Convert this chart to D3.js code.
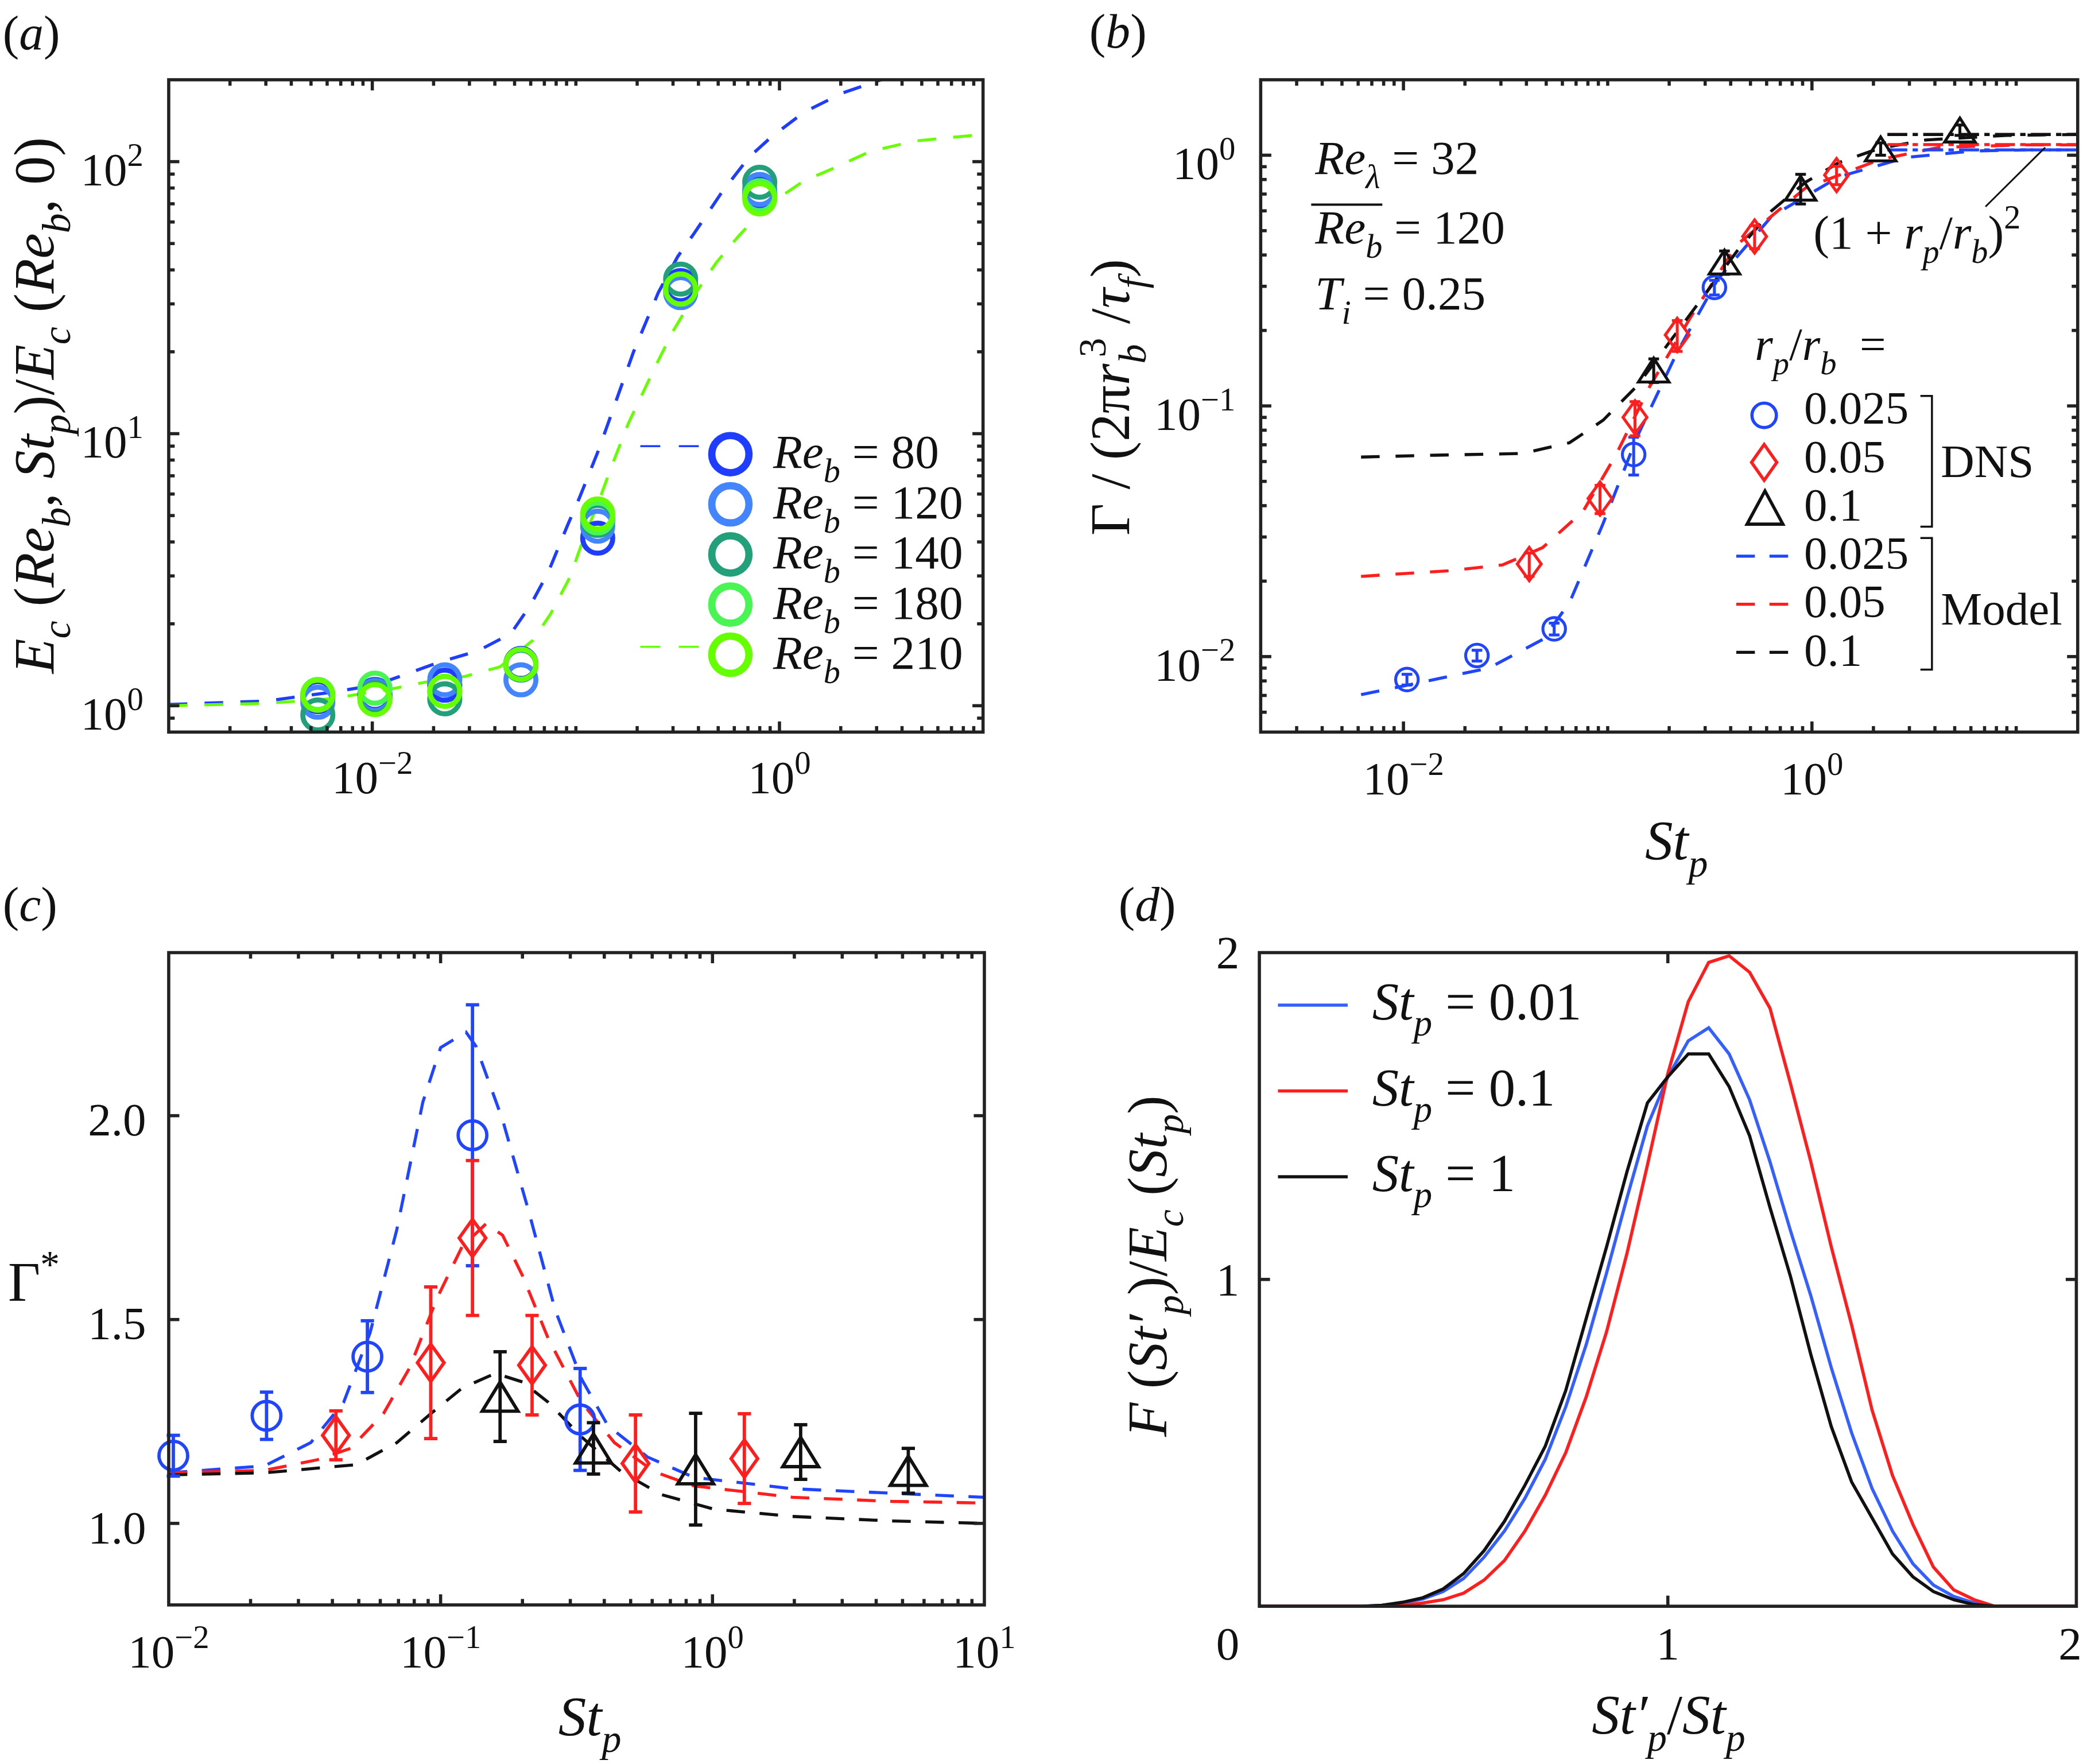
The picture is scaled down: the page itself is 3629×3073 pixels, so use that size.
<!DOCTYPE html>
<html>
<head>
<meta charset="utf-8">
<script src="https://cdn.jsdelivr.net/npm/d3@7"></script>
<style>
  html, body { margin: 0; padding: 0; background: #fff; }
  svg { display: block; }
  text { font-family: "Liberation Serif", "Times New Roman", Times, serif; fill: #111; white-space: pre; }
</style>
</head>
<body>
<div id="chart"></div>
<script>
// ---------- panel (a): E_c ratio vs St_p for several Re_b ----------
var stA = [0.0054, 0.0103, 0.0227, 0.0537, 0.128, 0.327, 0.80];
var reLabels = ["80", "120", "140", "180", "210"];
var reColors = ["#1f3dff", "#4385ff", "#22a07a", "#48f552", "#66ff00"];
var ecRe80  = [1.08, 1.10, 1.19, 1.43, 4.13, 35, 77];
var ecRe120 = [1.03, 1.09, 1.245, 1.245, 4.57, 33, 79];
var ecRe140 = [0.925, 1.07, 1.06, 1.41, 4.8, 37, 84];
var ecRe180 = [1.10, 1.16, 1.13, 1.42, 4.9, 34, 75];
var ecRe210 = [1.093, 1.053, 1.13, 1.42, 5.07, 34, 73];
var modelStA80 = [0.001, 0.003, 0.00625, 0.0103, 0.0144, 0.0216, 0.033, 0.0479, 0.06, 0.0732, 0.0915, 0.104, 0.13, 0.162, 0.192, 0.254, 0.316, 0.381, 0.52, 0.71, 0.91, 1.32, 2.05, 3.16, 5];
var modelEcA80 = [1.01, 1.04, 1.12, 1.19, 1.30, 1.45, 1.59, 1.84, 2.35, 3.1, 4.65, 5.8, 8.8, 14, 20, 33, 44.7, 54.5, 77, 104, 123, 152, 179, 200, 225];
var modelStA210 = [0.001, 0.003, 0.0062, 0.0122, 0.0182, 0.0284, 0.0424, 0.0615, 0.075, 0.0938, 0.1087, 0.128, 0.15, 0.181, 0.247, 0.297, 0.389, 0.489, 0.627, 0.85, 1.32, 1.81, 2.79, 4.6, 10];
var modelEcA210 = [1.0, 1.02, 1.06, 1.15, 1.22, 1.28, 1.39, 1.74, 2.17, 2.98, 4.09, 5.5, 7.6, 10.9, 17.8, 23.5, 33, 42.5, 53, 68, 85, 94, 109, 119, 126];

// ---------- panel (b): collision kernel vs St_p ----------
var stB025 = [0.0104, 0.0229, 0.0547, 0.134, 0.333];
var gamB025 = [0.0081, 0.0101, 0.0129, 0.064, 0.297];
var errB025 = [0.0004, 0.0005, 0.0007, 0.011, 0.02];
var stB05 = [0.0413, 0.0917, 0.136, 0.219, 0.524, 1.32];
var gamB05 = [0.0234, 0.0427, 0.090, 0.192, 0.474, 0.833];
var errB05 = [0.0025, 0.0055, 0.014, 0.027, 0.05, 0.07];
var stB1 = [0.168, 0.373, 0.88, 2.17, 5.3];
var gamB1 = [0.139, 0.375, 0.739, 1.06, 1.26];
var errB1 = [0.015, 0.04, 0.1, 0.06, 0.06];
var modelStB025 = [0.0062, 0.0105, 0.0262, 0.048, 0.065, 0.095, 0.139, 0.219, 0.346, 0.634, 1.355, 2.9, 6.2, 11.3, 20];
var modelGB025 = [0.00705, 0.0077, 0.009, 0.0117, 0.0164, 0.034, 0.075, 0.164, 0.32, 0.57, 0.82, 0.98, 1.04, 1.05, 1.05];
var modelStB05 = [0.0062, 0.0166, 0.0305, 0.048, 0.0758, 0.11, 0.161, 0.254, 0.43, 0.93, 2.14, 4.2, 11.3, 20];
var modelGB05 = [0.0209, 0.022, 0.0232, 0.0272, 0.038, 0.064, 0.12, 0.225, 0.44, 0.74, 0.96, 1.075, 1.1, 1.1];
var modelStB1 = [0.0062, 0.0143, 0.0383, 0.065, 0.095, 0.139, 0.203, 0.297, 0.434, 0.634, 0.93, 1.355, 2.14, 3.6, 9, 20];
var modelGB1 = [0.0625, 0.0636, 0.0646, 0.0713, 0.0877, 0.12, 0.182, 0.276, 0.419, 0.60, 0.78, 0.935, 1.065, 1.15, 1.2, 1.21];
var limitSt = [2.34, 20];
var limitVals = [1.0506, 1.1025, 1.21];   // (1 + rp/rb)^2

// ---------- panel (c): Gamma* vs St_p ----------
var stC025 = [0.0104, 0.0229, 0.0538, 0.131, 0.326];
var gC025 = [1.166, 1.264, 1.409, 1.952, 1.255];
var errC025 = [0.05, 0.058, 0.088, 0.32, 0.125];
var stC05 = [0.0412, 0.092, 0.131, 0.217, 0.521, 1.31];
var gC05 = [1.216, 1.394, 1.70, 1.388, 1.147, 1.159];
var errC05 = [0.06, 0.186, 0.19, 0.122, 0.119, 0.11];
var stC1 = [0.1655, 0.365, 0.867, 2.11, 5.25];
var gC1 = [1.311, 1.184, 1.133, 1.175, 1.129];
var errC1 = [0.11, 0.063, 0.137, 0.067, 0.055];
var modelStC025 = [0.01, 0.0225, 0.0333, 0.044, 0.055, 0.069, 0.086, 0.1, 0.124, 0.135, 0.169, 0.211, 0.264, 0.33, 0.412, 0.576, 0.853, 1.97, 4.57, 10];
var modelGC025 = [1.124, 1.141, 1.198, 1.297, 1.467, 1.72, 2.033, 2.167, 2.205, 2.17, 1.99, 1.765, 1.523, 1.354, 1.24, 1.163, 1.113, 1.085, 1.074, 1.064];
var modelStC05 = [0.01, 0.0225, 0.0352, 0.0466, 0.0616, 0.077, 0.097, 0.12, 0.147, 0.169, 0.2, 0.249, 0.33, 0.436, 0.61, 0.853, 1.97, 4.57, 10];
var modelGC05 = [1.124, 1.13, 1.156, 1.184, 1.269, 1.382, 1.552, 1.679, 1.735, 1.707, 1.608, 1.453, 1.297, 1.198, 1.127, 1.092, 1.064, 1.054, 1.05];
var modelStC1 = [0.01, 0.0225, 0.049, 0.069, 0.092, 0.12, 0.159, 0.2, 0.249, 0.33, 0.461, 0.646, 1.01, 1.97, 4.57, 10];
var modelGC1 = [1.119, 1.124, 1.144, 1.198, 1.269, 1.332, 1.368, 1.347, 1.297, 1.212, 1.127, 1.071, 1.035, 1.017, 1.006, 1.0];

// ---------- panel (d): distribution of St'_p ----------
var ratioD = [0, 0.25, 0.30, 0.35, 0.40, 0.45, 0.50, 0.55, 0.60, 0.65, 0.70, 0.75, 0.80, 0.85, 0.90, 0.95, 1.00, 1.05, 1.10, 1.15, 1.20, 1.25, 1.30, 1.35, 1.40, 1.45, 1.50, 1.55, 1.60, 1.65, 1.70, 1.75, 1.80, 2.0];
var fSt001 = [0, 0, 0.003, 0.01, 0.022, 0.045, 0.085, 0.15, 0.23, 0.33, 0.45, 0.61, 0.80, 1.02, 1.25, 1.47, 1.62, 1.73, 1.77, 1.69, 1.55, 1.36, 1.15, 0.95, 0.73, 0.53, 0.36, 0.23, 0.13, 0.065, 0.03, 0.01, 0, 0];
var fSt01 = [0, 0, 0, 0.003, 0.01, 0.02, 0.04, 0.08, 0.14, 0.23, 0.34, 0.47, 0.64, 0.84, 1.08, 1.35, 1.63, 1.85, 1.97, 1.99, 1.94, 1.83, 1.60, 1.36, 1.10, 0.86, 0.60, 0.40, 0.25, 0.12, 0.05, 0.02, 0, 0];
var fSt1 = [0, 0, 0.003, 0.012, 0.026, 0.053, 0.10, 0.17, 0.26, 0.37, 0.49, 0.66, 0.88, 1.10, 1.33, 1.54, 1.62, 1.69, 1.69, 1.59, 1.44, 1.22, 1.01, 0.77, 0.55, 0.38, 0.27, 0.16, 0.09, 0.045, 0.02, 0.005, 0, 0];
var legendD = ["0.01", "0.1", "1"];

var BLUE = "#1f45ff", RED = "#ff1e1e", BLACK = "#111111";
var AXIS = "#222";

var svg = d3.select("#chart").append("svg")
  .attr("width", 3629)
  .attr("height", 3073)
  .attr("viewBox", "0 0 1568 1327.7");
svg.append("rect").attr("width", 1568).attr("height", 1327.7).attr("fill", "#fff");
var defs = svg.append("defs");

// text with italic / sub / sup pieces: parts = [[str, style, dx]]
function richText(parent, x, y, fs, parts, anchor) {
  var t = parent.append("text")
    .attr("x", x).attr("y", y)
    .attr("font-size", fs)
    .attr("text-anchor", anchor || "start");
  var cur = 0;
  parts.forEach(function (p) {
    var st = p[1] || "";
    var off = 0, size = fs;
    if (st.indexOf("sub") >= 0) { off = 0.3 * fs; size = 0.7 * fs; }
    else if (st.indexOf("sup") >= 0) { off = -0.42 * fs; size = 0.7 * fs; }
    var ts = t.append("tspan")
      .attr("dy", off - cur)
      .attr("font-size", size)
      .attr("font-style", st.charAt(0) === "i" ? "italic" : "normal")
      .text(p[0]);
    if (p[2]) ts.attr("dx", p[2]);
    cur = off;
  });
  return t;
}

function rotLabel(x, y, fs, parts) {
  var g = svg.append("g").attr("transform", "translate(" + x + "," + y + ") rotate(-90)");
  return richText(g, 0, 0, fs, parts, "middle");
}

function makePanel(id, x, y, w, h) {
  defs.append("clipPath").attr("id", "clip-" + id)
    .append("rect").attr("width", w).attr("height", h);
  var g = svg.append("g").attr("transform", "translate(" + x + "," + y + ")");
  var curves = g.append("g").attr("clip-path", "url(#clip-" + id + ")");
  var marks = g.append("g");
  var frame = g.append("g");
  return { g: g, curves: curves, marks: marks, frame: frame, w: w, h: h };
}

function logTicks(lo, hi) {
  var out = [];
  for (var e = Math.floor(Math.log10(lo)); e <= Math.ceil(Math.log10(hi)); e++) {
    for (var k = 1; k < 10; k++) {
      var v = k * Math.pow(10, e);
      if (v >= lo * 0.999 && v <= hi * 1.001) out.push(v);
    }
  }
  return out;
}

function isMajor(v, majors) {
  return majors.some(function (m) { return Math.abs(v - m) / m < 1e-6; });
}

// inward ticks on all four sides, MATLAB box style
function drawFrame(p, sx, sy, xTicks, xMajors, yTicks, yMajors) {
  var f = p.frame;
  var MAJ = 8, MIN = 4.5;
  xTicks.forEach(function (v) {
    var x = sx(v);
    if (x < 1 || x > p.w - 1) return;
    var len = isMajor(v, xMajors) ? MAJ : MIN;
    f.append("line").attr("x1", x).attr("x2", x).attr("y1", p.h).attr("y2", p.h - len);
    f.append("line").attr("x1", x).attr("x2", x).attr("y1", 0).attr("y2", len);
  });
  yTicks.forEach(function (v) {
    var y = sy(v);
    if (y < 1 || y > p.h - 1) return;
    var len = isMajor(v, yMajors) ? MAJ : MIN;
    f.append("line").attr("x1", 0).attr("x2", len).attr("y1", y).attr("y2", y);
    f.append("line").attr("x1", p.w).attr("x2", p.w - len).attr("y1", y).attr("y2", y);
  });
  f.selectAll("line").attr("stroke", AXIS).attr("stroke-width", 2.4);
  f.append("rect").attr("width", p.w).attr("height", p.h)
    .attr("fill", "none").attr("stroke", AXIS).attr("stroke-width", 2.4);
}

function expParts(v) {
  var e = Math.round(Math.log10(v));
  return [["10"], [(e < 0 ? "\u2212" : "") + Math.abs(e), "sup"]];
}

function logXLabels(p, sx, vals, dy) {
  vals.forEach(function (v) { richText(p.g, sx(v), p.h + dy, 35, expParts(v), "middle"); });
}
function logYLabels(p, sy, vals) {
  vals.forEach(function (v) { richText(p.g, -19, sy(v) + 18, 35, expParts(v), "end"); });
}

function zip(xs, ys) { return xs.map(function (x, i) { return [x, ys[i]]; }); }

function dashed(p, sx, sy, xs, ys, color, width, dash) {
  p.curves.append("path")
    .datum(zip(xs, ys))
    .attr("fill", "none")
    .attr("stroke", color)
    .attr("stroke-width", width)
    .attr("stroke-dasharray", dash)
    .attr("d", d3.line().x(function (d) { return sx(d[0]); }).y(function (d) { return sy(d[1]); }));
}

function diamondPath(hw, hh) {
  return "M0," + (-hh) + "L" + hw + ",0L0," + hh + "L" + (-hw) + ",0Z";
}
function trianglePath(w, h) {
  return "M0," + (-h / 2) + "L" + (w / 2) + "," + (h / 2) + "L" + (-w / 2) + "," + (h / 2) + "Z";
}

function marker(g, kind, x, y, color, size, sw) {
  if (kind === "o") {
    g.append("circle").attr("cx", x).attr("cy", y).attr("r", size.r)
      .attr("fill", "none").attr("stroke", color).attr("stroke-width", sw);
  } else {
    var d = kind === "d" ? diamondPath(size.hw, size.hh) : trianglePath(size.w, size.h);
    g.append("path").attr("d", d).attr("transform", "translate(" + x + "," + y + ")")
      .attr("fill", "none").attr("stroke", color).attr("stroke-width", sw).attr("stroke-linejoin", "miter");
  }
}

function errorSeries(p, sx, sy, xs, ys, es, color, kind, size, sw, cap) {
  var g = p.marks.append("g");
  xs.forEach(function (x, i) {
    var cx = sx(x), y0 = sy(ys[i] - es[i]), y1 = sy(ys[i] + es[i]);
    g.append("line").attr("x1", cx).attr("x2", cx).attr("y1", y0).attr("y2", y1);
    g.append("line").attr("x1", cx - cap).attr("x2", cx + cap).attr("y1", y0).attr("y2", y0);
    g.append("line").attr("x1", cx - cap).attr("x2", cx + cap).attr("y1", y1).attr("y2", y1);
    marker(g, kind, cx, sy(ys[i]), color, size, sw);
  });
  g.selectAll("line").attr("stroke", color).attr("stroke-width", sw);
}

// =================== (a) ===================
var pA = makePanel("a", 127, 60, 613, 491);
var xA = d3.scaleLog().domain([1e-3, 10]).range([0, pA.w]);
var yA = d3.scaleLog().domain([0.8, 200]).range([pA.h, 0]);
dashed(pA, xA, yA, modelStA80, modelEcA80, reColors[0], 2.4, "14,13");
dashed(pA, xA, yA, modelStA210, modelEcA210, reColors[4], 2.2, "14,13");
[ecRe80, ecRe120, ecRe140, ecRe180, ecRe210].forEach(function (series, k) {
  pA.marks.selectAll(null).data(series).enter().append("circle")
    .attr("cx", function (d, i) { return xA(stA[i]); })
    .attr("cy", function (d) { return yA(d); })
    .attr("r", 11.3)
    .attr("fill", "none")
    .attr("stroke", reColors[k])
    .attr("stroke-width", 3.8);
});
drawFrame(pA, xA, yA, logTicks(1e-3, 10), [1e-2, 1], logTicks(0.8, 200), [1, 10, 100]);
logXLabels(pA, xA, [1e-2, 1], 46);
logYLabels(pA, yA, [1, 10, 100]);
rotLabel(40, 305, 43, [["E", "i"], ["c", "isub"], [" ("], ["Re", "i"], ["b", "isub"], [", "], ["St", "i"], ["p", "isub"], [")/"], ["E", "i"], ["c", "isub"], [" ("], ["Re", "i"], ["b", "isub"], [", 0)"]]);
// legend (a)
reLabels.forEach(function (lab, k) {
  var ly = 341.8 + k * 37.75;
  if (k === 0 || k === 4) {
    svg.append("line").attr("x1", 482).attr("x2", 528).attr("y1", ly - 6).attr("y2", ly - 6)
      .attr("stroke", reColors[k]).attr("stroke-width", 1.6).attr("stroke-dasharray", "15,14");
  }
  svg.append("circle").attr("cx", 549.8).attr("cy", ly).attr("r", 14)
    .attr("fill", "none").attr("stroke", reColors[k]).attr("stroke-width", 5.5);
  richText(svg, 582, ly + 10.5, 36, [["Re", "i"], ["b", "isub"], [" = " + lab]]);
});
richText(svg, 2, 37, 37, [["("], ["a", "i"], [")"]]);

// =================== (b) ===================
var pB = makePanel("b", 949, 60, 615, 491);
var xB = d3.scaleLog().domain([2e-3, 20]).range([0, pB.w]);
var yB = d3.scaleLog().domain([5e-3, 2]).range([pB.h, 0]);
dashed(pB, xB, yB, modelStB025, modelGB025, BLUE, 2.3, "14,12");
dashed(pB, xB, yB, modelStB05, modelGB05, RED, 2.3, "14,12");
dashed(pB, xB, yB, modelStB1, modelGB1, BLACK, 2.3, "14,12");
[BLUE, RED, BLACK].forEach(function (c, k) {
  dashed(pB, xB, yB, limitSt, [limitVals[k], limitVals[k]], c, 2.3, "15,4,4,4");
});
errorSeries(pB, xB, yB, stB025, gamB025, errB025, BLUE, "o", { r: 8.5 }, 2.2, 4);
errorSeries(pB, xB, yB, stB05, gamB05, errB05, RED, "d", { hw: 9, hh: 12.5 }, 2.2, 4);
errorSeries(pB, xB, yB, stB1, gamB1, errB1, BLACK, "^", { w: 23, h: 18 }, 2.2, 4);
drawFrame(pB, xB, yB, logTicks(2e-3, 20), [1e-2, 1], logTicks(5e-3, 2), [1e-2, 0.1, 1]);
logXLabels(pB, xB, [1e-2, 1], 47);
logYLabels(pB, yB, [1e-2, 0.1, 1]);
richText(svg, 1262, 647, 42, [["St", "i"], ["p", "isub"]], "middle");
rotLabel(850, 299, 42, [["\u0393 / (2\u03c0"], ["r", "i"], ["b", "isub"], ["3", "sup", -10], [" /"], ["\u03c4", "i"], ["f", "isub"], [")"]]);
richText(svg, 820, 36, 37, [["("], ["b", "i"], [")"]]);
// annotations
richText(svg, 990, 131, 36, [["Re", "i"], ["\u03bb", "isub"], [" = 32"]]);
var reBar = richText(svg, 990, 183, 36, [["Re", "i"], ["b", "isub"], [" = 120"]]);
var tsp = reBar.selectAll("tspan").nodes();
var barLen = tsp[0].getComputedTextLength() + tsp[1].getComputedTextLength();
svg.append("line").attr("x1", 987).attr("x2", 990 + barLen).attr("y1", 154).attr("y2", 154)
  .attr("stroke", "#111").attr("stroke-width", 1.8);
richText(svg, 990, 233, 36, [["T", "i"], ["i", "isub"], [" = 0.25"]]);
richText(svg, 1365, 187, 36, [["(1 + "], ["r", "i"], ["p", "isub"], ["/"], ["r", "i"], ["b", "isub"], [")"], ["2", "sup"]]);
svg.append("line").attr("x1", 1539.5).attr("y1", 111).attr("x2", 1494.6).attr("y2", 155.5)
  .attr("stroke", "#111").attr("stroke-width", 1.3);
// legend (b)
richText(svg, 1321, 271, 35, [["r", "i"], ["p", "isub"], ["/"], ["r", "i"], ["b", "isub"], ["  ="]]);
var legB = svg.append("g");
marker(legB, "o", 1328, 312.6, BLUE, { r: 9.2 }, 2.4);
marker(legB, "d", 1328, 348, RED, { hw: 9.5, hh: 13.5 }, 2.4);
marker(legB, "^", 1328.6, 382, BLACK, { w: 27, h: 25 }, 2.4);
[BLUE, RED, BLACK].forEach(function (c, k) {
  legB.append("line").attr("x1", 1307).attr("x2", 1346).attr("y1", 418.6 + k * 36.2).attr("y2", 418.6 + k * 36.2)
    .attr("stroke", c).attr("stroke-width", 2.3).attr("stroke-dasharray", "14,11");
});
["0.025", "0.05", "0.1", "0.025", "0.05", "0.1"].forEach(function (s, k) {
  richText(svg, 1358, 319 + k * 36.4, 35, [[s]]);
});
[[298, 396.4], [404.9, 504]].forEach(function (b) {
  legB.append("path")
    .attr("d", "M1445.6," + b[0] + "H1454.3V" + b[1] + "H1445.6")
    .attr("fill", "none").attr("stroke", "#111").attr("stroke-width", 1.5);
});
richText(svg, 1461, 359, 35, [["DNS"]]);
richText(svg, 1461, 470, 35, [["Model"]]);

// =================== (c) ===================
var pC = makePanel("c", 127, 717, 614, 491);
var xC = d3.scaleLog().domain([1e-2, 10]).range([0, pC.w]);
var yC = d3.scaleLinear().domain([0.8, 2.4]).range([pC.h, 0]);
dashed(pC, xC, yC, modelStC025, modelGC025, BLUE, 2.3, "14,11");
dashed(pC, xC, yC, modelStC05, modelGC05, RED, 2.3, "14,11");
dashed(pC, xC, yC, modelStC1, modelGC1, BLACK, 2.3, "14,11");
errorSeries(pC, xC, yC, stC025, gC025, errC025, BLUE, "o", { r: 10.8 }, 2.5, 5);
errorSeries(pC, xC, yC, stC05, gC05, errC05, RED, "d", { hw: 10, hh: 14 }, 2.5, 5);
errorSeries(pC, xC, yC, stC1, gC1, errC1, BLACK, "^", { w: 27, h: 22 }, 2.5, 5);
drawFrame(pC, xC, yC, logTicks(1e-2, 10), [1e-2, 0.1, 1, 10], [1.0, 1.5, 2.0], [1.0, 1.5, 2.0]);
logXLabels(pC, xC, [1e-2, 0.1, 1, 10], 47);
[1.0, 1.5, 2.0].forEach(function (v) {
  richText(pC.g, -17, yC(v) + 15, 35, [[d3.format(".1f")(v)]], "end");
});
richText(svg, 444, 1306, 42, [["St", "i"], ["p", "isub"]], "middle");
richText(svg, 6, 979, 42, [["\u0393"], ["*", "sup"]]);
richText(svg, 2, 693, 37, [["("], ["c", "i"], [")"]]);

// =================== (d) ===================
var pD = makePanel("d", 948, 717, 615, 492);
var xD = d3.scaleLinear().domain([0, 2]).range([0, pD.w]);
var yD = d3.scaleLinear().domain([0, 2]).range([pD.h, 0]);
var colD = ["#3560ff", "#ff1e1e", "#111111"];
[fSt001, fSt01, fSt1].forEach(function (ys, k) {
  dashed(pD, xD, yD, ratioD, ys, colD[k], 2.4, null);
});
drawFrame(pD, xD, yD, [0, 1, 2], [0, 1, 2], [0, 1, 2], [0, 1, 2]);
richText(pD.g, xD(1), pD.h + 40, 35, [["1"]], "middle");
richText(pD.g, xD(2) + 4, pD.h + 40, 35, [["2"]], "end");
[1, 2].forEach(function (v) {
  richText(pD.g, -15, yD(v) + 12, 35, [[String(v)]], "end");
});
richText(pD.g, -15, pD.h + 40, 35, [["0"]], "end");
legendD.forEach(function (s, k) {
  var ly = 756.5 + k * 64.6;
  svg.append("line").attr("x1", 962).attr("x2", 1014.5).attr("y1", ly).attr("y2", ly)
    .attr("stroke", colD[k]).attr("stroke-width", 2.4);
  richText(svg, 1033, ly + 11, 40, [["St", "i"], ["p", "isub"], [" = " + s]]);
});
richText(svg, 1256, 1305, 42, [["St\u2032", "i"], ["p", "isub"], ["/"], ["St", "i"], ["p", "isub"]], "middle");
rotLabel(878, 953, 42, [["F", "i"], [" ("], ["St\u2032", "i"], ["p", "isub"], [")/"], ["E", "i"], ["c", "isub"], [" ("], ["St", "i"], ["p", "isub"], [")"]]);
richText(svg, 842, 693, 37, [["("], ["d", "i"], [")"]]);
</script>
</body>
</html>
